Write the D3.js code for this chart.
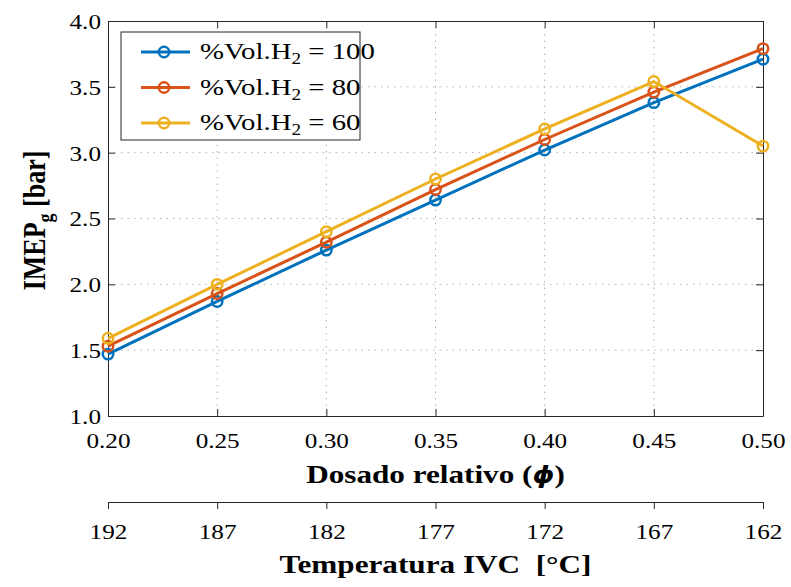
<!DOCTYPE html>
<html>
<head>
<meta charset="utf-8">
<script src="https://cdn.jsdelivr.net/npm/d3@7"></script>
<style>
  html, body { margin: 0; padding: 0; background: #fff; }
  svg { display: block; }
  svg text { font-family: "Liberation Serif", "Times New Roman", serif; fill: #000; }
</style>
</head>
<body>
<svg id="chart" width="791" height="587"></svg>
<script>
// Relative fuel/air ratio and matching intake-valve-closing temperature
const phi = [0.20, 0.25, 0.30, 0.35, 0.40, 0.45, 0.50];
const tempIVC = [192, 187, 182, 177, 172, 167, 162];
const yTicks = [1.0, 1.5, 2.0, 2.5, 3.0, 3.5, 4.0];

// Gross IMEP [bar] for each hydrogen volume fraction
const imep100 = [1.47, 1.87, 2.26, 2.64, 3.02, 3.38, 3.71];
const imep80  = [1.53, 1.93, 2.32, 2.72, 3.10, 3.46, 3.79];
const imep60  = [1.59, 2.00, 2.40, 2.80, 3.18, 3.54, 3.05];

const seriesNames = ["100", "80", "60"];
const seriesColors = ["#0072BD", "#D95319", "#EDB120"];
const seriesValues = [imep100, imep80, imep60];

const svg = d3.select("#chart");
const L = 108, R = 763, T = 21, B = 416;
const SX = 1.2;            // horizontal stretch of the serif lettering
const axisColor = "#262626";

const x = d3.scaleLinear().domain([0.20, 0.50]).range([L, R]);
const y = d3.scaleLinear().domain([1.0, 4.0]).range([B, T]);

// dotted grid
const grid = svg.append("g");
grid.selectAll("line.gx").data(phi.slice(1, -1)).join("line")
  .attr("x1", d => x(d)).attr("x2", d => x(d))
  .attr("y1", T).attr("y2", B)
  .attr("stroke", "#b4b4b4").attr("stroke-width", 1).attr("stroke-dasharray", "1.5,5");
grid.selectAll("line.gy").data(yTicks.slice(1, -1)).join("line")
  .attr("x1", L).attr("x2", R)
  .attr("y1", d => y(d)).attr("y2", d => y(d))
  .attr("stroke", "#b4b4b4").attr("stroke-width", 1).attr("stroke-dasharray", "1.5,5");

function styleAxis(a) {
  a.attr("font-family", null).attr("font-size", null);
  a.select(".domain").attr("stroke", axisColor).attr("stroke-width", 1);
  a.selectAll(".tick line").attr("stroke", axisColor).attr("stroke-width", 1);
  a.selectAll("text").attr("fill", "#000").attr("font-size", 21);
}

// box axes with inward ticks
const fmt2 = d3.format(".2f"), fmt1 = d3.format(".1f");
const axB = svg.append("g").attr("transform", `translate(0,${B})`)
  .call(d3.axisBottom(x).tickValues(phi).tickFormat(fmt2).tickSizeInner(-7).tickSizeOuter(0));
const axT = svg.append("g").attr("transform", `translate(0,${T})`)
  .call(d3.axisTop(x).tickValues(phi).tickFormat("").tickSizeInner(-7).tickSizeOuter(0));
const axL = svg.append("g").attr("transform", `translate(${L},0)`)
  .call(d3.axisLeft(y).tickValues(yTicks).tickFormat(fmt1).tickSizeInner(-7).tickSizeOuter(0));
const axR = svg.append("g").attr("transform", `translate(${R},0)`)
  .call(d3.axisRight(y).tickValues(yTicks).tickFormat("").tickSizeInner(-7).tickSizeOuter(0));
[axB, axT, axL, axR].forEach(styleAxis);
axB.selectAll("text").attr("y", 0).attr("dy", null)
  .attr("transform", `translate(0,32) scale(${SX},1)`);
axL.selectAll("text").attr("x", 0).attr("dy", "0.35em")
  .attr("transform", `translate(-7,0) scale(${SX},1)`);

// secondary temperature axis
const x2 = d3.scalePoint().domain(tempIVC).range([L, R]);
const ax2 = svg.append("g").attr("transform", "translate(0,502)")
  .call(d3.axisBottom(x2).tickSizeInner(7).tickSizeOuter(0));
styleAxis(ax2);
ax2.selectAll("text").attr("y", 0).attr("dy", null)
  .attr("transform", `translate(0,37) scale(${SX},1)`);

// axis titles
const xt = svg.append("text")
  .attr("transform", `translate(${(L + R) / 2},483) scale(${SX},1)`)
  .attr("text-anchor", "middle").attr("font-weight", "bold").attr("font-size", 26);
xt.append("tspan").text("Dosado relativo (");
xt.append("tspan").style("font-family", "'DejaVu Sans', sans-serif")
  .attr("font-style", "italic").attr("font-size", 23).text("ϕ");
xt.append("tspan").text(")");

svg.append("text")
  .attr("transform", `translate(${(L + R) / 2},573) scale(${SX},1)`)
  .attr("text-anchor", "middle").attr("font-weight", "bold").attr("font-size", 26)
  .attr("xml:space", "preserve").text("Temperatura IVC  [°C]");

const yl = svg.append("text")
  .attr("transform", `translate(45,${(T + B) / 2 + 2}) scale(${SX},1) rotate(-90)`)
  .attr("text-anchor", "middle").attr("font-weight", "bold").attr("font-size", 26);
yl.append("tspan").text("IMEP");
yl.append("tspan").attr("font-size", 18).attr("dy", 6).text("g");
yl.append("tspan").attr("dy", -6).text(" [bar]");

// series lines and hollow circle markers
const line = d3.line().x((d, i) => x(phi[i])).y(d => y(d));
seriesValues.forEach((vals, k) => {
  const g = svg.append("g");
  g.append("path").datum(vals).attr("d", line)
    .attr("fill", "none").attr("stroke", seriesColors[k]).attr("stroke-width", 3);
  g.selectAll("circle").data(vals).join("circle")
    .attr("cx", (d, i) => x(phi[i])).attr("cy", d => y(d)).attr("r", 5.2)
    .attr("fill", "none").attr("stroke", seriesColors[k]).attr("stroke-width", 2.5);
});

// legend
const lg = svg.append("g");
lg.append("rect").attr("x", 121).attr("y", 32).attr("width", 239).attr("height", 108)
  .attr("fill", "#fff").attr("stroke", axisColor).attr("stroke-width", 1);
seriesNames.forEach((name, k) => {
  const cy = 52 + k * 35.5;
  lg.append("line").attr("x1", 141).attr("x2", 190).attr("y1", cy).attr("y2", cy)
    .attr("stroke", seriesColors[k]).attr("stroke-width", 3);
  lg.append("circle").attr("cx", 164).attr("cy", cy).attr("r", 5.2)
    .attr("fill", "none").attr("stroke", seriesColors[k]).attr("stroke-width", 2.5);
  const t = lg.append("text")
    .attr("transform", `translate(200,${cy + 7}) scale(${SX},1)`).attr("font-size", 24);
  t.append("tspan").text("%Vol.H");
  t.append("tspan").attr("font-size", 16).attr("dy", 5).text("2");
  t.append("tspan").attr("dy", -5).text(" = " + name);
});
</script>
</body>
</html>
